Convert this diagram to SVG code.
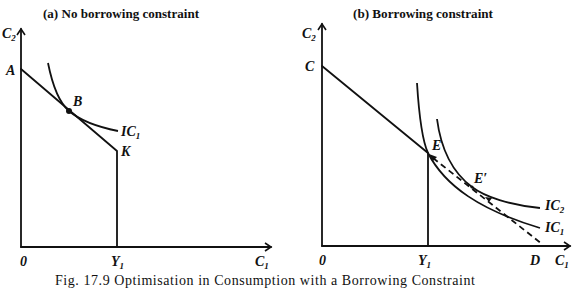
<svg xmlns="http://www.w3.org/2000/svg" width="576" height="301" viewBox="0 0 576 301">
<style>
.ln{fill:none;stroke:#111;stroke-width:1.8;stroke-linecap:round;stroke-linejoin:round}
.cv{fill:none;stroke:#111;stroke-width:1.8}
.ds{fill:none;stroke:#111;stroke-width:1.8;stroke-dasharray:6,4}
.lb{font-family:"Liberation Serif",serif;font-style:italic;font-weight:bold;font-size:14px;fill:#111}
.sb{font-size:9px}
.tt{font-family:"Liberation Serif",serif;font-weight:bold;font-size:13px;fill:#111}
.cap{font-family:"Liberation Serif",serif;font-size:14px;fill:#111}
</style>
<defs>
<marker id="ar" markerWidth="10" markerHeight="10" refX="8" refY="5" orient="auto" markerUnits="userSpaceOnUse">
<path d="M2,1 L8,5 L2,9" fill="none" stroke="#111" stroke-width="1.6"/>
</marker>
</defs>
<g id="titles">
<text class="tt" x="43" y="18" textLength="156" lengthAdjust="spacingAndGlyphs">(a) No borrowing constraint</text>
<text class="tt" x="353" y="18" textLength="140" lengthAdjust="spacingAndGlyphs">(b) Borrowing constraint</text>
</g>
<g id="connectors">
<path class="ln" d="M21,247 L21,29" marker-end="url(#ar)"/>
<path class="ln" d="M21,247 L271,247" marker-end="url(#ar)"/>
<path class="ln" d="M21,69 L117,151 L117,247"/>
<path class="cv" d="M48,63 C53,88 60,103.3 69,111 C80,120.4 98,127 118,131"/>
<path class="ln" d="M322,246 L322,24" marker-end="url(#ar)"/>
<path class="ln" d="M322,246 L570,246" marker-end="url(#ar)"/>
<path class="ln" d="M322,66 L428,153 L428,246"/>
<path class="cv" d="M417,83 C419,115 422,140 428,153 C445,186 480,210 540,228"/>
<path class="cv" d="M437,119 C441,150 452,172 472,187 C485,197 510,205 540,208"/>
<path class="ds" d="M433,158 L542,244"/>
<path d="M429,154 L437,157 L433,161 Z" fill="#111"/>
<path d="M485,197 L492,198 L489,202 Z" fill="#111"/>
</g>
<g id="node-B"><circle cx="69" cy="111" r="3" fill="#111"/></g>
<g id="node-E1"><circle cx="472" cy="187" r="1.6" fill="#111"/></g>
<g id="labels">
<text class="lb" x="2" y="38">C<tspan class="sb" dy="3">2</tspan></text>
<text class="lb" x="6" y="75">A</text>
<text class="lb" x="73" y="106">B</text>
<text class="lb" x="121" y="136">IC<tspan class="sb" dy="3">1</tspan></text>
<text class="lb" x="121" y="156">K</text>
<text class="lb" x="20" y="266">0</text>
<text class="lb" x="111" y="266">Y<tspan class="sb" dy="3">1</tspan></text>
<text class="lb" x="255" y="266">C<tspan class="sb" dy="3">1</tspan></text>
<text class="lb" x="302" y="38">C<tspan class="sb" dy="3">2</tspan></text>
<text class="lb" x="305" y="71">C</text>
<text class="lb" x="432" y="150">E</text>
<text class="lb" x="474" y="183">E′</text>
<text class="lb" x="545" y="210">IC<tspan class="sb" dy="3">2</tspan></text>
<text class="lb" x="545" y="232">IC<tspan class="sb" dy="3">1</tspan></text>
<text class="lb" x="319" y="265">0</text>
<text class="lb" x="418" y="265">Y<tspan class="sb" dy="3">1</tspan></text>
<text class="lb" x="530" y="265">D</text>
<text class="lb" x="555" y="265">C<tspan class="sb" dy="3">1</tspan></text>
</g>
<g id="caption">
<text class="cap" x="55" y="285" textLength="420" lengthAdjust="spacing">Fig. 17.9 Optimisation in Consumption with a Borrowing Constraint</text>
</g>
</svg>
